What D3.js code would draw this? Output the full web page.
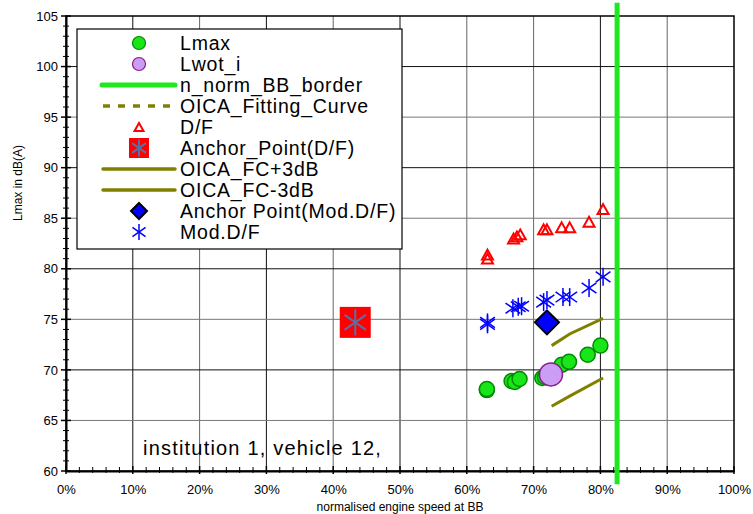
<!DOCTYPE html>
<html>
<head>
<meta charset="utf-8">
<script src="https://cdn.jsdelivr.net/npm/d3@7"></script>
<style>
  html, body { margin: 0; padding: 0; background: #fff; }
  svg { display: block; font-family: "Liberation Sans", Arial, sans-serif; }
</style>
</head>
<body>
<svg id="chart" width="753" height="514"></svg>
<script>
// ---- data ----
var xTicks = [0, 10, 20, 30, 40, 50, 60, 70, 80, 90, 100];
var yTicks = [60, 65, 70, 75, 80, 85, 90, 95, 100, 105];

var lmaxX = [63.0, 63.0, 66.7, 67.2, 67.9, 71.3, 71.7, 74.2, 75.3, 78.1, 80.0];
var lmaxY = [68.0, 68.1, 68.9, 68.8, 69.1, 69.2, 69.3, 70.5, 70.8, 71.5, 72.4];

var lwotX = [72.6];
var lwotY = [69.55];

var borderX = [82.5, 82.5];
var borderY = [58.7, 106.3];

var dfX = [63.1, 63.1, 67.0, 67.5, 68.0, 71.5, 72.0, 74.2, 75.4, 78.3, 80.4];
var dfY = [81.0, 81.4, 83.0, 83.2, 83.4, 83.9, 83.9, 84.1, 84.1, 84.65, 85.9];

var anchorDfX = [43.3];
var anchorDfY = [74.7];

var fcX      = [72.7, 75.4, 80.4];
var fcPlusY  = [72.4, 73.55, 75.1];
var fcMinusY = [66.4, 67.4, 69.2];

var anchorModX = [72.0];
var anchorModY = [74.7];

var modDfX = [63.1, 63.1, 66.9, 67.7, 68.2, 71.5, 72.0, 74.4, 75.4, 78.3, 80.4];
var modDfY = [74.5, 74.7, 76.1, 76.25, 76.3, 76.7, 76.9, 77.2, 77.2, 78.1, 79.2];

var legendNames = ["Lmax", "Lwot_i", "n_norm_BB_border", "OICA_Fitting_Curve", "D/F",
  "Anchor_Point(D/F)", "OICA_FC+3dB", "OICA_FC-3dB", "Anchor Point(Mod.D/F)", "Mod.D/F"];

// ---- colours ----
var GREEN_FILL = "#19e619";
var GREEN_EDGE = "#008a00";
var PURPLE_FILL = "#cc9df5";
var PURPLE_EDGE = "#8a1a8a";
var BORDER_GREEN = "#1ee81e";
var OLIVE = "#808000";
var RED = "#ff0000";
var BLUE = "#0000ff";
var STAR_GREY = "#5870a8";

var svg = d3.select("#chart");

var x = d3.scaleLinear().domain([0, 100]).range([66, 734]);
var y = d3.scaleLinear().domain([60, 105]).range([471, 16]);

function zip(a, b) { return a.map(function (v, i) { return [v, b[i]]; }); }

// grid
var grid = svg.append("g");
grid.selectAll("line.v").data(xTicks.slice(1, -1)).enter().append("line")
  .attr("x1", function (d) { return x(d); }).attr("x2", function (d) { return x(d); })
  .attr("y1", y(105)).attr("y2", y(60))
  .attr("stroke", function (d) { return (d === 50 || d === 80 || d === 10 || d === 30) ? "#111" : "#666"; })
  .attr("stroke-width", 1);
grid.selectAll("line.h").data(yTicks.slice(1, -1)).enter().append("line")
  .attr("x1", x(0)).attr("x2", x(100))
  .attr("y1", function (d) { return y(d); }).attr("y2", function (d) { return y(d); })
  .attr("stroke", function (d) { return d % 10 === 0 ? "#111" : "#777"; })
  .attr("stroke-width", 1);

// frame
svg.append("rect")
  .attr("x", x(0)).attr("y", y(105))
  .attr("width", x(100) - x(0)).attr("height", y(60) - y(105))
  .attr("fill", "none").attr("stroke", "#000").attr("stroke-width", 1.5);

// axes
var yAxis = d3.axisLeft(y).tickValues(yTicks).tickSize(0).tickPadding(8);
svg.append("g").attr("transform", "translate(" + x(0) + ",0)").call(yAxis)
  .call(function (g) {
    g.select(".domain").attr("stroke", "#000").attr("stroke-width", 2);
    g.selectAll(".tick text").attr("font-size", "13px").attr("fill", "#000")
      .attr("font-family", "'Liberation Sans', Arial, sans-serif");
  });
var xAxis = d3.axisBottom(x).tickValues(xTicks).tickSize(0).tickPadding(14)
  .tickFormat(function (d) { return d + "%"; });
svg.append("g").attr("transform", "translate(0," + y(60) + ")").call(xAxis)
  .call(function (g) {
    g.select(".domain").attr("stroke", "#000").attr("stroke-width", 2);
    g.selectAll(".tick text").attr("font-size", "13px").attr("fill", "#000")
      .attr("font-family", "'Liberation Sans', Arial, sans-serif");
  });

// tick marks crossing the axes
var yMinor = d3.range(60, 106, 1);
svg.append("g").selectAll("line").data(yMinor).enter().append("line")
  .attr("x1", function (d) { return x(0) - (d % 5 === 0 ? 5 : 3); })
  .attr("x2", function (d) { return x(0) + (d % 5 === 0 ? 5 : 3); })
  .attr("y1", function (d) { return y(d); }).attr("y2", function (d) { return y(d); })
  .attr("stroke", "#000").attr("stroke-width", function (d) { return d % 5 === 0 ? 1.5 : 1; });
var xMinor = d3.range(0, 101, 2);
svg.append("g").selectAll("line").data(xMinor).enter().append("line")
  .attr("x1", function (d) { return x(d); }).attr("x2", function (d) { return x(d); })
  .attr("y1", function (d) { return y(60) - (d % 10 === 0 ? 5 : 4); })
  .attr("y2", function (d) { return y(60) + (d % 10 === 0 ? 3 : 2); })
  .attr("stroke", "#000").attr("stroke-width", function (d) { return d % 10 === 0 ? 1.5 : 1; });

// axis titles
svg.append("text")
  .attr("transform", "translate(22,183) rotate(-90)")
  .attr("text-anchor", "middle").attr("font-size", "12px")
  .text("Lmax in dB(A)");
svg.append("text")
  .attr("x", 400).attr("y", 511)
  .attr("text-anchor", "middle").attr("font-size", "12px")
  .text("normalised engine speed at BB");

// ---- symbol helpers ----
function star(g, cx, cy, r, color, w) {
  [90, 35, 145].forEach(function (a) {
    var rad = a * Math.PI / 180;
    g.append("line")
      .attr("x1", cx - r * Math.cos(rad)).attr("y1", cy - r * Math.sin(rad))
      .attr("x2", cx + r * Math.cos(rad)).attr("y2", cy + r * Math.sin(rad))
      .attr("stroke", color).attr("stroke-width", w);
  });
}
function triangle(g, cx, cy, s) {
  var h = s * 0.9;
  g.append("path")
    .attr("d", "M" + cx + "," + (cy - h / 2) + "L" + (cx + s / 2) + "," + (cy + h / 2) + "L" + (cx - s / 2) + "," + (cy + h / 2) + "Z")
    .attr("fill", "none").attr("stroke", RED).attr("stroke-width", 2);
}
function diamond(g, cx, cy, r) {
  g.append("path")
    .attr("d", "M" + cx + "," + (cy - r) + "L" + (cx + r) + "," + cy + "L" + cx + "," + (cy + r) + "L" + (cx - r) + "," + cy + "Z")
    .attr("fill", BLUE).attr("stroke", "#000").attr("stroke-width", 2);
}
function anchorSquare(g, cx, cy, s) {
  g.append("rect").attr("x", cx - s / 2).attr("y", cy - s / 2).attr("width", s).attr("height", s)
    .attr("fill", RED);
  star(g, cx, cy, s * 0.42, STAR_GREY, 2);
}

var marks = svg.append("g");
var line = d3.line().x(function (d) { return x(d[0]); }).y(function (d) { return y(d[1]); });

// n_norm_BB_border
marks.append("path").datum(zip(borderX, borderY)).attr("d", line)
  .attr("stroke", BORDER_GREEN).attr("stroke-width", 5).attr("fill", "none");

// OICA +/- 3 dB
marks.append("path").datum(zip(fcX, fcPlusY)).attr("d", line)
  .attr("stroke", OLIVE).attr("stroke-width", 3).attr("fill", "none");
marks.append("path").datum(zip(fcX, fcMinusY)).attr("d", line)
  .attr("stroke", OLIVE).attr("stroke-width", 3).attr("fill", "none");

// D/F triangles
zip(dfX, dfY).forEach(function (p) { triangle(marks, x(p[0]), y(p[1]), 11); });

// Mod.D/F stars
zip(modDfX, modDfY).forEach(function (p) { star(marks, x(p[0]), y(p[1]), 9, BLUE, 1.5); });

// Lmax
marks.selectAll("circle.lmax").data(zip(lmaxX, lmaxY)).enter().append("circle")
  .attr("cx", function (d) { return x(d[0]); }).attr("cy", function (d) { return y(d[1]); })
  .attr("r", 7.5).attr("fill", GREEN_FILL).attr("stroke", GREEN_EDGE).attr("stroke-width", 1.5);

// Lwot_i
marks.selectAll("circle.lwot").data(zip(lwotX, lwotY)).enter().append("circle")
  .attr("cx", function (d) { return x(d[0]); }).attr("cy", function (d) { return y(d[1]); })
  .attr("r", 11.5).attr("fill", PURPLE_FILL).attr("stroke", PURPLE_EDGE).attr("stroke-width", 1.5);

// anchors
zip(anchorModX, anchorModY).forEach(function (p) { diamond(marks, x(p[0]), y(p[1]), 12); });
zip(anchorDfX, anchorDfY).forEach(function (p) { anchorSquare(marks, x(p[0]), y(p[1]), 31); });

// annotation
svg.append("text").attr("x", 143).attr("y", 455)
  .attr("font-size", "20px").attr("letter-spacing", "1.2px")
  .text("institution 1, vehicle 12,");

// ---- legend ----
var lg = svg.append("g");
lg.append("rect").attr("x", 77).attr("y", 29).attr("width", 325).attr("height", 220)
  .attr("fill", "#fff").attr("stroke", "#000").attr("stroke-width", 1.2);

var symX = 139, lx1 = 103, lx2 = 175, textX = 180;
legendNames.forEach(function (name, i) {
  var cy = 43 + i * 21;
  if (i === 0) {
    lg.append("circle").attr("cx", symX).attr("cy", cy).attr("r", 6.5)
      .attr("fill", GREEN_FILL).attr("stroke", GREEN_EDGE).attr("stroke-width", 1.2);
  } else if (i === 1) {
    lg.append("circle").attr("cx", symX).attr("cy", cy).attr("r", 6.5)
      .attr("fill", PURPLE_FILL).attr("stroke", PURPLE_EDGE).attr("stroke-width", 1.2);
  } else if (i === 2) {
    lg.append("line").attr("x1", lx1 - 1).attr("x2", lx2).attr("y1", cy).attr("y2", cy)
      .attr("stroke", BORDER_GREEN).attr("stroke-width", 5).attr("stroke-linecap", "round");
  } else if (i === 3) {
    lg.append("line").attr("x1", lx1).attr("x2", lx2).attr("y1", cy).attr("y2", cy)
      .attr("stroke", OLIVE).attr("stroke-width", 3.5).attr("stroke-dasharray", "7,8");
  } else if (i === 4) {
    triangle(lg, symX, cy, 9);
  } else if (i === 5) {
    anchorSquare(lg, symX, cy, 20);
  } else if (i === 6 || i === 7) {
    lg.append("line").attr("x1", lx1).attr("x2", lx2).attr("y1", cy).attr("y2", cy)
      .attr("stroke", OLIVE).attr("stroke-width", 3.5).attr("stroke-linecap", "round");
  } else if (i === 8) {
    diamond(lg, symX, cy, 8);
  } else {
    star(lg, symX, cy, 8, BLUE, 1.5);
  }
  lg.append("text").attr("x", textX).attr("y", cy).attr("dy", "0.36em")
    .attr("font-size", "19.5px").attr("letter-spacing", "0.8px")
    .text(name);
});
</script>
</body>
</html>
